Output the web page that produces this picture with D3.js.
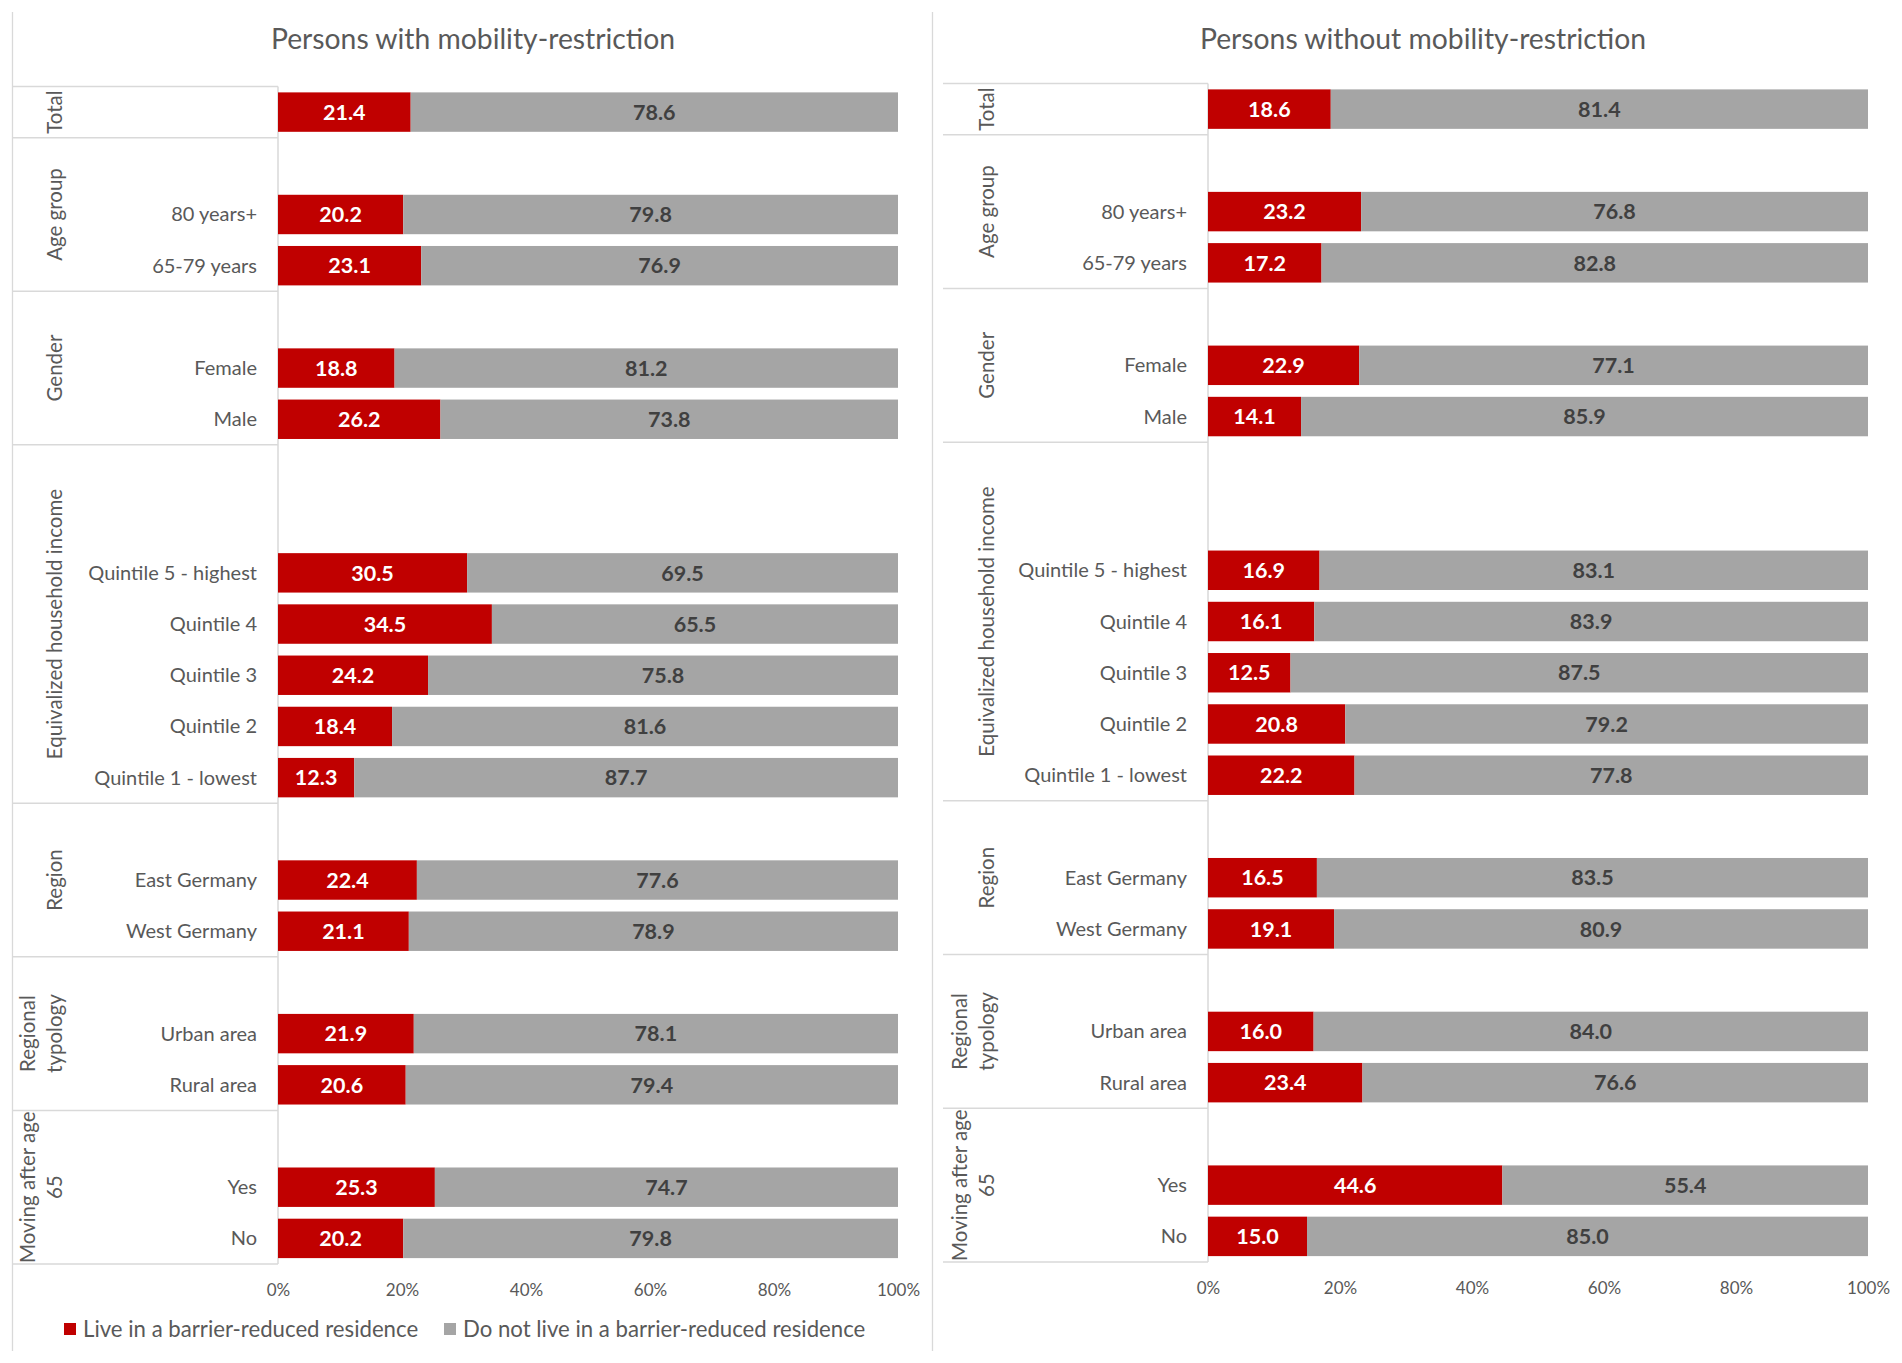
<!DOCTYPE html>
<html>
<head>
<meta charset="utf-8">
<script src="https://cdn.jsdelivr.net/npm/d3@7"></script>
<style>
  body { margin: 0; background: #fff; }
  text { font-family: Lato, "Open Sans", sans-serif; fill: #595959; }
</style>
</head>
<body>
<div id="chart"></div>
<script>
const W = 1902, H = 1363;

// group labels (rotated), and the slots of each group (null = empty row)
const groupLabels = [["Total"], ["Age group"], ["Gender"], ["Equivalized household income"],
                     ["Region"], ["Regional", "typology"], ["Moving after age", "65"]];
const groupSlots = [
    ["Total"],
    [null, "80 years+", "65-79 years"],
    [null, "Female", "Male"],
    [null, null, "Quintile 5 - highest", "Quintile 4", "Quintile 3", "Quintile 2", "Quintile 1 - lowest"],
    [null, "East Germany", "West Germany"],
    [null, "Urban area", "Rural area"],
    [null, "Yes", "No"]
];

const categories = ["Total", "80 years+", "65-79 years", "Female", "Male",
    "Quintile 5 - highest", "Quintile 4", "Quintile 3", "Quintile 2", "Quintile 1 - lowest",
    "East Germany", "West Germany", "Urban area", "Rural area", "Yes", "No"];

// Persons with mobility-restriction
const withLive = [21.4, 20.2, 23.1, 18.8, 26.2, 30.5, 34.5, 24.2, 18.4, 12.3, 22.4, 21.1, 21.9, 20.6, 25.3, 20.2];
const withNot  = [78.6, 79.8, 76.9, 81.2, 73.8, 69.5, 65.5, 75.8, 81.6, 87.7, 77.6, 78.9, 78.1, 79.4, 74.7, 79.8];
// Persons without mobility-restriction
const withoutLive = [18.6, 23.2, 17.2, 22.9, 14.1, 16.9, 16.1, 12.5, 20.8, 22.2, 16.5, 19.1, 16.0, 23.4, 44.6, 15.0];
const withoutNot  = [81.4, 76.8, 82.8, 77.1, 85.9, 83.1, 83.9, 87.5, 79.2, 77.8, 83.5, 80.9, 84.0, 76.6, 55.4, 85.0];

const ticks = [0, 20, 40, 60, 80, 100];
const seriesNames = ["Live in a barrier-reduced residence", "Do not live in a barrier-reduced residence"];
const colors = ["#C00000", "#A5A5A5"];

const svg = d3.select("#chart").append("svg")
    .attr("width", W)
    .attr("height", H);

// panel frame lines
const frame = svg.append("g").attr("stroke", "#D9D9D9").attr("stroke-width", 1.3);
frame.append("line").attr("x1", 12.5).attr("x2", 12.5).attr("y1", 12).attr("y2", 1351);
frame.append("line").attr("x1", 932.5).attr("x2", 932.5).attr("y1", 12).attr("y2", 1351);

// slot keys for the band scale
const slotKeys = [];
groupSlots.forEach((g, gi) => g.forEach((s, si) => slotKeys.push(gi + "-" + si)));

function drawPanel(p, live, notLive) {
    const g = svg.append("g");

    const x = d3.scaleLinear().domain([0, 100]).range([p.x0, p.x1]);
    const y = d3.scaleBand().domain(slotKeys).range([p.yTop, p.yBot])
                .paddingInner(0.23).paddingOuter(0.115);
    const step = y.step();
    const keyOf = {};
    groupSlots.forEach((gr, gi) => gr.forEach((s, si) => { if (s) keyOf[s] = gi + "-" + si; }));

    // title
    g.append("text")
        .attr("x", p.titleX).attr("y", 49)
        .attr("text-anchor", "middle")
        .style("font-size", "28.3px")
        .text(p.title);

    // group separators and labels
    let start = 0;
    groupSlots.forEach((gr, gi) => {
        const yStart = p.yTop + start * step;
        const yEnd = p.yTop + (start + gr.length) * step;
        g.append("line")
            .attr("x1", p.sepX0).attr("x2", p.x0)
            .attr("y1", yStart).attr("y2", yStart)
            .attr("stroke", "#D9D9D9").attr("stroke-width", 1.5);
        const lines = groupLabels[gi];
        const t = g.append("text")
            .attr("transform", `translate(${p.groupX},${(yStart + yEnd) / 2}) rotate(-90)`)
            .attr("text-anchor", "middle")
            .style("font-size", "20.5px");
        lines.forEach((l, li) => {
            t.append("tspan")
                .attr("x", 0)
                .attr("y", (li - (lines.length - 1)) * 27)
                .attr("dy", "0.35em")
                .text(l);
        });
        start += gr.length;
    });
    g.append("line")
        .attr("x1", p.sepX0).attr("x2", p.x0)
        .attr("y1", p.yBot).attr("y2", p.yBot)
        .attr("stroke", "#D9D9D9").attr("stroke-width", 1.5);

    // vertical category axis line
    g.append("line")
        .attr("x1", p.x0).attr("x2", p.x0)
        .attr("y1", p.yTop).attr("y2", p.yBot)
        .attr("stroke", "#D9D9D9").attr("stroke-width", 1.5);

    // category labels
    g.append("g").selectAll("text")
        .data(categories.filter(c => c !== "Total"))
        .enter()
        .append("text")
        .attr("x", p.labelRight)
        .attr("y", d => y(keyOf[d]) + y.bandwidth() / 2)
        .attr("dy", "0.35em")
        .attr("text-anchor", "end")
        .style("font-size", "20px")
        .text(d => d);

    const rows = categories.map((c, i) => ({ cat: c, live: live[i], not: notLive[i] }));

    // bars
    const barG = g.append("g");
    barG.selectAll("rect.live")
        .data(rows)
        .enter()
        .append("rect")
        .attr("class", "live")
        .attr("x", x(0))
        .attr("y", d => y(keyOf[d.cat]))
        .attr("width", d => x(d.live) - x(0))
        .attr("height", y.bandwidth())
        .attr("fill", colors[0]);
    barG.selectAll("rect.not")
        .data(rows)
        .enter()
        .append("rect")
        .attr("class", "not")
        .attr("x", d => x(d.live))
        .attr("y", d => y(keyOf[d.cat]))
        .attr("width", d => x(d.live + d.not) - x(d.live))
        .attr("height", y.bandwidth())
        .attr("fill", colors[1]);

    // data labels
    barG.selectAll("text.lv")
        .data(rows)
        .enter()
        .append("text")
        .attr("x", d => (x(0) + x(d.live)) / 2)
        .attr("y", d => y(keyOf[d.cat]) + y.bandwidth() / 2)
        .attr("dy", "0.36em")
        .attr("text-anchor", "middle")
        .style("font-size", "21.5px")
        .style("font-weight", "bold")
        .style("fill", "#FFFFFF")
        .text(d => d.live.toFixed(1));
    barG.selectAll("text.nt")
        .data(rows)
        .enter()
        .append("text")
        .attr("x", d => (x(d.live) + x(d.live + d.not)) / 2)
        .attr("y", d => y(keyOf[d.cat]) + y.bandwidth() / 2)
        .attr("dy", "0.36em")
        .attr("text-anchor", "middle")
        .style("font-size", "21.5px")
        .style("font-weight", "bold")
        .style("fill", "#404040")
        .text(d => d.not.toFixed(1));

    // x axis
    const axis = g.append("g")
        .attr("transform", `translate(0,${p.tickY})`)
        .call(d3.axisBottom(x).tickValues(ticks).tickFormat(d => d + "%").tickSize(0));
    axis.select(".domain").remove();
    axis.selectAll("text")
        .attr("y", 0)
        .attr("dy", "0.35em")
        .style("font-family", "Lato, sans-serif")
        .style("font-size", "17px")
        .style("fill", "#595959");
}

drawPanel({
    title: "Persons with mobility-restriction", titleX: 473,
    x0: 278, x1: 898, yTop: 86.5, yBot: 1264,
    sepX0: 12, labelRight: 257, groupX: 55, tickY: 1290
}, withLive, withNot);

drawPanel({
    title: "Persons without mobility-restriction", titleX: 1423,
    x0: 1208, x1: 1868, yTop: 83.5, yBot: 1262,
    sepX0: 943, labelRight: 1187, groupX: 987, tickY: 1288
}, withoutLive, withoutNot);

// legend
const legend = svg.append("g");
const legendItems = [{ name: seriesNames[0], color: colors[0], x: 64 },
                     { name: seriesNames[1], color: colors[1], x: 444 }];
legend.selectAll("rect")
    .data(legendItems)
    .enter()
    .append("rect")
    .attr("x", d => d.x).attr("y", 1323)
    .attr("width", 12).attr("height", 12)
    .attr("fill", d => d.color);
legend.selectAll("text")
    .data(legendItems)
    .enter()
    .append("text")
    .attr("x", d => d.x + 19).attr("y", 1329)
    .attr("dy", "0.35em")
    .style("font-size", "22.2px")
    .text(d => d.name);
</script>
</body>
</html>
